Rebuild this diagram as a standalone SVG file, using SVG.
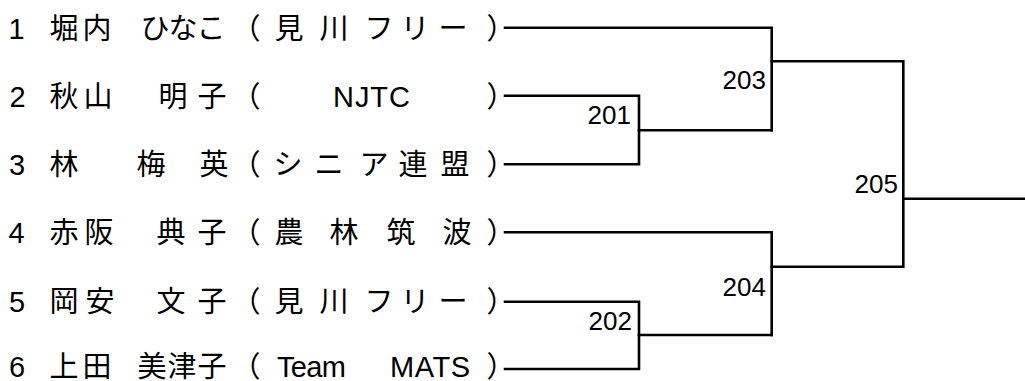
<svg xmlns="http://www.w3.org/2000/svg" width="1025" height="381" viewBox="0 0 1025 381">
<style>
.t{font-family:"Liberation Sans","Noto Sans CJK JP",sans-serif;font-size:29px;fill:#000}
.c{text-anchor:middle}
.lb{font-family:"Liberation Sans","Noto Sans CJK JP",sans-serif;font-size:26px;fill:#000;text-anchor:end}
.ln{fill:none;stroke:#000;stroke-width:2.6;stroke-linecap:square}
</style>
<rect width="1025" height="381" fill="#fff"/>
<g id="p1">
<text class="t c" x="16.5 64 97 155 183 211" y="39">1堀内ひなこ</text>
<text class="t c" x="246" y="39">（</text>
<text class="t c" x="289 334 379 415 453" y="39">見川フリー</text>
<text class="t c" x="501" y="39">）</text>
</g>
<g id="p2">
<text class="t c" x="17.5 64 98 173 212" y="107">2秋山明子</text>
<text class="t c" x="246" y="107">（</text>
<text class="t" x="333" y="107" textLength="77" lengthAdjust="spacing">NJTC</text>
<text class="t c" x="501" y="107">）</text>
</g>
<g id="p3">
<text class="t c" x="17 64 151 214" y="175">3林梅英</text>
<text class="t c" x="246" y="175">（</text>
<text class="t c" x="288 329 374 413 455" y="175">シニア連盟</text>
<text class="t c" x="501" y="175">）</text>
</g>
<g id="p4">
<text class="t c" x="16.5 64 99 171 212" y="243">4赤阪典子</text>
<text class="t c" x="246" y="243">（</text>
<text class="t c" x="289 344 401 457" y="243">農林筑波</text>
<text class="t c" x="501" y="243">）</text>
</g>
<g id="p5">
<text class="t c" x="17 64 100 171 212" y="312">5岡安文子</text>
<text class="t c" x="246" y="312">（</text>
<text class="t c" x="289 334 379 415 453" y="312">見川フリー</text>
<text class="t c" x="501" y="312">）</text>
</g>
<g id="p6">
<text class="t c" x="17 64 97 152 182 212" y="377">6上田美津子</text>
<text class="t c" x="246" y="377">（</text>
<text class="t" x="277" y="377" textLength="69" lengthAdjust="spacing">Team</text>
<text class="t" x="390" y="377" textLength="80" lengthAdjust="spacing">MATS</text>
<text class="t c" x="501" y="377">）</text>
</g>
<g id="connectors">
<path class="ln" d="M505 27.7H771.7V130.3"/>
<path class="ln" d="M505 95.7H639V164.3H505"/>
<path class="ln" d="M639 130.3H771.7"/>
<path class="ln" d="M771.7 61.3H903.3V266.7H771.7"/>
<path class="ln" d="M505 232.3H771.7V335"/>
<path class="ln" d="M505 301.7H639V369H505"/>
<path class="ln" d="M639 335H771.7"/>
<path class="ln" d="M903.3 198.7H1025"/>
</g>
<g id="m201"><text class="lb" x="631" y="124">201</text></g>
<g id="m202"><text class="lb" x="632" y="330">202</text></g>
<g id="m203"><text class="lb" x="766" y="89">203</text></g>
<g id="m204"><text class="lb" x="766" y="296">204</text></g>
<g id="m205"><text class="lb" x="898" y="193">205</text></g>
</svg>
